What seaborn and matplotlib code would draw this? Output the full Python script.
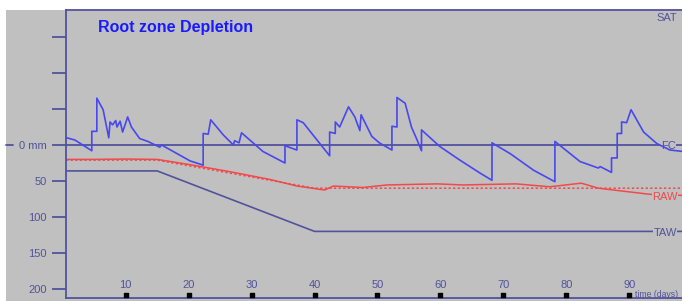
import numpy as np
import pandas as pd
import matplotlib
matplotlib.use('Agg')
import matplotlib.pyplot as plt
import seaborn as sns
from matplotlib.patches import Rectangle

# root zone depletion (mm, positive = below field capacity)
dep_day = [0.6, 1.9, 4.6, 4.6, 5.4, 5.4, 6.4, 7.3, 7.5, 7.9, 8.4, 8.6, 9.1, 9.5, 10.3, 10.9,
           12.2, 13.5, 15.4, 15.7, 20.2, 22.3, 22.3, 23.1, 23.5, 25.5, 27.1, 27.3, 28.0, 28.4,
           31.8, 35.3, 35.3, 37.2, 37.2, 38.2, 42.4, 42.4, 43.3, 43.3, 44.0, 45.4, 46.4, 47.2,
           47.4, 49.1, 50.3, 52.3, 52.3, 53.1, 53.1, 54.4, 55.4, 56.3, 57.0, 57.0, 59.9, 63.1,
           66.3, 68.2, 68.2, 71.1, 74.8, 78.2, 78.2, 82.2, 85.1, 85.4, 87.2, 87.2, 88.1, 88.1,
           88.8, 88.8, 89.6, 90.3, 92.3, 94.4, 96.5, 98.6]
dep_mm = [-10, -7, 8, -19, -19, -65, -49, -10, -32, -28, -34, -25, -33, -18, -39, -25,
          -9, -5, 3, 0, 22, 28, -16, -15, -35, -14, 0, -6, -3, -17,
          9, 25, 1, 7, -35, -31, 15, -18, -16, -32, -25, -53, -39, -20,
          -42, -12, -3, 7, -26, -25, -66, -58, -25, -7, 8, -21, 2, 21,
          39, 49, -3, 12, 35, 51, -5, 23, 32, 30, 38, 18, 18, -16,
          -16, -32, -31, -49, -18, -2, 7, 9]

# TAW and RAW thresholds
taw_day = [0.5, 15, 40, 98.6]
taw_mm = [36, 36, 120, 120]
raw_day = [0.5, 15, 40, 98.6]
raw_mm = [21, 21, 60, 60]
# adjusted RAW (solid red)
rawa_day = [0.5, 5, 10, 15, 20, 26.5, 33, 37.2, 41.6, 43, 47.7, 51.5, 59.5, 63.6, 72, 77.4,
            82.4, 85.1, 93.3, 98.6]
rawa_mm = [20, 20, 19.5, 20, 27, 37, 48, 57, 62.5, 57, 59, 55.5, 54, 55.5, 54, 58,
           53, 60, 68.5, 70]

xtick_days = [10, 20, 30, 40, 50, 60, 70, 80, 90]
ytick_vals = [-150, -100, -50, 0, 50, 100, 150, 200]
ytick_text = ['', '', '', '0 mm', '50', '100', '150', '200']

BG = '#c0c0c0'
DARK = '#52529c'
BLUE = '#4848ee'
RED = '#f04a4a'

sns.set_style('white')
plt.rcParams['font.family'] = ['Liberation Sans', 'DejaVu Sans']

fig = plt.figure(figsize=(6.82, 3.01), dpi=100)
fig.patch.set_facecolor('white')
fig.patches.append(Rectangle((6 / 682, 0), 1, 1 - 10 / 301, transform=fig.transFigure,
                             facecolor=BG, edgecolor='none', zorder=-10))
ax = fig.add_axes([66 / 682, 3 / 301, 1 - 66 / 682, 1 - 13 / 301])
ax.set_facecolor(BG)

ax.axhline(0, color=DARK, lw=1.3, zorder=2)
sns.lineplot(x=taw_day, y=taw_mm, ax=ax, color=DARK, lw=1.2, sort=False, estimator=None)
sns.lineplot(x=raw_day, y=raw_mm, ax=ax, color=RED, lw=1.1, ls=(0, (1.5, 1.5)), sort=False, estimator=None)
sns.lineplot(x=rawa_day, y=rawa_mm, ax=ax, color=RED, lw=1.1, sort=False, estimator=None)
sns.lineplot(x=dep_day, y=dep_mm, ax=ax, color=BLUE, lw=1.2, sort=False, estimator=None, zorder=8)

ax.set_xlim(0.5, 98.4)
ax.set_ylim(212.5, -187.5)

ax.set_yticks(ytick_vals)
ax.set_yticklabels(ytick_text, color=DARK, fontsize=8)
ax.tick_params(axis='y', length=10, width=1.3, color=DARK, pad=4, left=True)
ax.set_xticks([])
ax.set_xlabel('')
ax.set_ylabel('')

for s in ['left', 'top', 'bottom']:
    ax.spines[s].set_color(DARK)
    ax.spines[s].set_linewidth(1.3)
ax.spines['right'].set_visible(False)

# small dash left of the "0 mm" label
ax.plot([-0.098, -0.086], [0, 0], transform=ax.get_yaxis_transform(), color=DARK,
        lw=1.3, clip_on=False)

for d in xtick_days:
    ax.text(d, 194, str(d), color=DARK, fontsize=8, ha='center', va='center')
ax.scatter(xtick_days, [208] * len(xtick_days), marker='s', s=12, color='black', zorder=5,
           clip_on=False)
ax.text(90.9, 207, 'time (days)', color=DARK, fontsize=6.2, ha='left', va='center', clip_on=False)

lab_box = dict(facecolor=BG, edgecolor='none', pad=0.5)
ax.text(96.0, -177, 'SAT', color=DARK, fontsize=8, ha='center', va='center')
ax.text(96.2, 1, 'FC', color=DARK, fontsize=8, ha='center', va='center', bbox=lab_box, zorder=6)
ax.text(95.7, 72, 'RAW', color=RED, fontsize=8, ha='center', va='center', bbox=lab_box, zorder=6)
ax.text(95.7, 122, 'TAW', color=DARK, fontsize=8, ha='center', va='center', bbox=lab_box, zorder=6)

ax.text(0.052, 0.965, 'Root zone Depletion', transform=ax.transAxes, color='#1a1aff',
        fontsize=11.5, fontweight='bold', ha='left', va='top')

fig.savefig('out.png', dpi=100, facecolor=fig.get_facecolor())
